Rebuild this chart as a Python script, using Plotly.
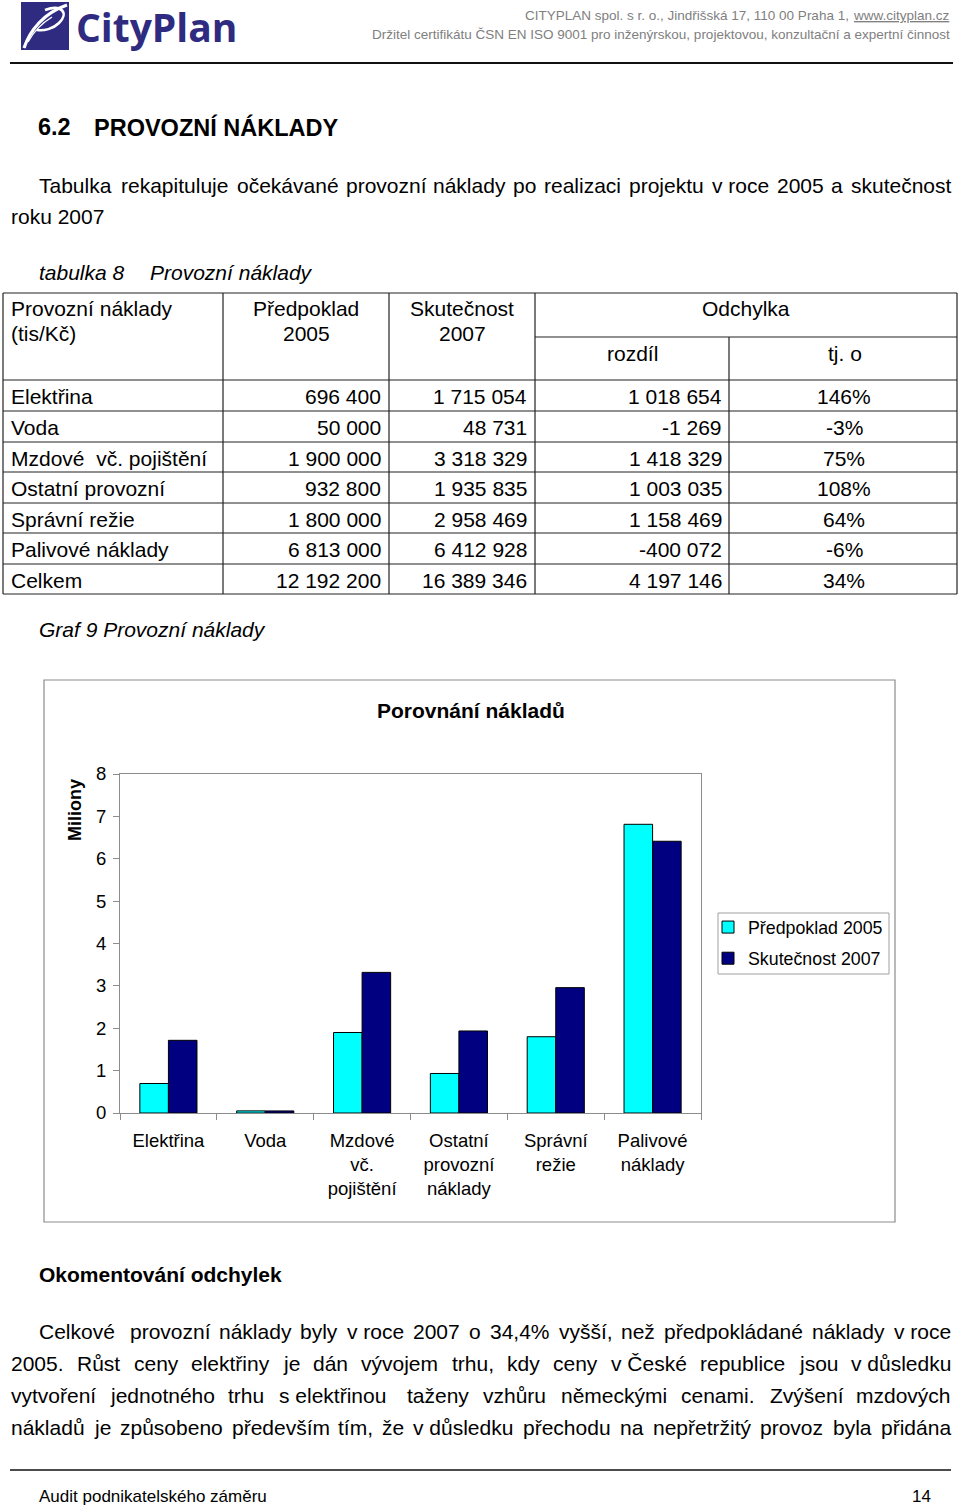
import unicodedata
import plotly.graph_objects as go

# ---------------- data ----------------
table_rows = ["Elektřina", "Voda", "Mzdové\u00a0 vč. pojištění", "Ostatní provozní",
              "Správní režie", "Palivové náklady", "Celkem"]
predpoklad_2005 = [696400, 50000, 1900000, 932800, 1800000, 6813000, 12192200]
skutecnost_2007 = [1715054, 48731, 3318329, 1935835, 2958469, 6412928, 16389346]
rozdil = [1018654, -1269, 1418329, 1003035, 1158469, -400072, 4197146]
tj_o = ["146%", "-3%", "75%", "108%", "64%", "-6%", "34%"]

chart_categories = ["Elektřina", "Voda", "Mzdové<br>vč.<br>pojištění",
                    "Ostatní<br>provozní<br>náklady", "Správní<br>režie", "Palivové<br>náklady"]
chart_pred = [v / 1e6 for v in predpoklad_2005[:6]]
chart_skut = [v / 1e6 for v in skutecnost_2007[:6]]
y_ticks = [0, 1, 2, 3, 4, 5, 6, 7, 8]

para_lines = [
    ["Celkové\u00a0", "provozní", "náklady", "byly", "v\u00a0roce", "2007", "o", "34,4%", "vyšší,", "než",
     "předpokládané", "náklady", "v\u00a0roce"],
    ["2005.", "Růst", "ceny", "elektřiny", "je", "dán", "vývojem", "trhu,", "kdy", "ceny", "v\u00a0České",
     "republice", "jsou", "v\u00a0důsledku"],
    ["vytvoření", "jednotného", "trhu", "s\u00a0elektřinou\u00a0", "taženy", "vzhůru", "německými", "cenami.",
     "Zvýšení", "mzdových"],
    ["nákladů", "je", "způsobeno", "především", "tím,", "že", "v\u00a0důsledku", "přechodu", "na",
     "nepřetržitý", "provoz", "byla", "přidána"],
]
intro_line = ["Tabulka", "rekapituluje", "očekávané", "provozní", "náklady", "po", "realizaci", "projektu",
              "v\u00a0roce", "2005", "a", "skutečnost"]

# ---------------- helpers ----------------
W, H = 960, 1508
FONT = "Liberation Sans, Arial, sans-serif"


def px(x):
    return x / W


def py(y):
    return 1 - y / H


AW = {' ': 278, '\u00a0': 278, 'a': 556, 'b': 556, 'c': 500, 'd': 556, 'e': 556, 'f': 278, 'g': 556,
      'h': 556, 'i': 222, 'j': 222, 'k': 500, 'l': 222, 'm': 833, 'n': 556, 'o': 556, 'p': 556,
      'q': 556, 'r': 333, 's': 500, 't': 278, 'u': 556, 'v': 500, 'w': 722, 'x': 500, 'y': 500,
      'z': 500, 'A': 667, 'B': 667, 'C': 722, 'D': 722, 'E': 667, 'F': 611, 'G': 778, 'H': 722,
      'I': 278, 'J': 500, 'K': 667, 'L': 556, 'M': 833, 'N': 722, 'O': 778, 'P': 667, 'Q': 778,
      'R': 722, 'S': 667, 'T': 611, 'U': 722, 'V': 667, 'W': 944, 'X': 667, 'Y': 667, 'Z': 611,
      ',': 278, '.': 278, '%': 889, '-': 333, '(': 333, ')': 333, '/': 278}


def tw(s, size):
    t = 0
    for ch in s:
        base = unicodedata.normalize('NFD', ch)[0]
        t += AW.get(base, 556)
    return t / 1000 * size


annotations = []
shapes = []


def text(x, y, s, size=21, anchor="left", bold=False, italic=False, color="black", family=FONT, **kw):
    if bold:
        s = "<b>" + s + "</b>"
    if italic:
        s = "<i>" + s + "</i>"
    annotations.append(dict(x=px(x), y=py(y), xref="paper", yref="paper", text=s, showarrow=False,
                            xanchor=anchor, yanchor="middle", borderpad=0,
                            font=dict(size=size, color=color, family=family, **kw)))


def justify(tokens, x0, x1, y, size=21):
    widths = [tw(t, size) for t in tokens]
    gap = (x1 - x0 - sum(widths)) / (len(tokens) - 1)
    x = x0
    for t, w in zip(tokens, widths):
        text(x, y, t, size)
        x += w + gap


def hline(x0, x1, y, color="#222", width=1.2):
    shapes.append(dict(type="line", xref="paper", yref="paper", x0=px(x0), x1=px(x1), y0=py(y), y1=py(y),
                       line=dict(color=color, width=width)))


def vline(x, y0, y1, color="#222", width=1.2):
    shapes.append(dict(type="line", xref="paper", yref="paper", x0=px(x), x1=px(x), y0=py(y0), y1=py(y1),
                       line=dict(color=color, width=width)))


# ---------------- header ----------------
NAVY = "#2E2B80"
shapes.append(dict(type="rect", xref="paper", yref="paper", x0=px(21), x1=px(69), y0=py(50), y1=py(2),
                   fillcolor=NAVY, line=dict(width=0)))


def path(points_cmds):
    out = []
    for c in points_cmds:
        if isinstance(c, str):
            out.append(c)
        else:
            out.append(f"{px(c[0]):.5f},{py(c[1]):.5f}")
    return " ".join(out)


shapes.append(dict(type="path", xref="paper", yref="paper",
                   path=path(["M", (24, 48), "C", (30, 30), (44, 13), (67, 5)]),
                   line=dict(color="white", width=3.2)))
shapes.append(dict(type="path", xref="paper", yref="paper",
                   path=path(["M", (45, 10), "C", (62, 4), (69, 13), (59, 23), "C", (53, 29), (44, 31), (37, 30)]),
                   line=dict(color="white", width=2.6)))
shapes.append(dict(type="path", xref="paper", yref="paper",
                   path=path(["M", (28, 42), "C", (34, 31), (42, 23), (52, 17)]),
                   line=dict(color="white", width=1.4)))
text(75, 27, "<b>CityPlan</b>", size=39, color=NAVY, family="Open Sans, sans-serif")

text(850, 16, "CITYPLAN spol. s r. o., Jindřišská 17, 110 00 Praha 1,", size=13.5, anchor="right", color="#808080")
text(951, 16, "www.cityplan.cz", size=13.5, anchor="right", color="#808080", lineposition="under")
text(951, 35, "Držitel certifikátu ČSN EN ISO 9001 pro inženýrskou, projektovou, konzultační a expertní činnost",
     size=13.5, anchor="right", color="#808080")
hline(10, 953, 63, color="#111", width=2)

# ---------------- headings & intro ----------------
text(37, 127, "6.2", size=23.5, bold=True)
text(93, 127, "PROVOZNÍ NÁKLADY", size=23.5, bold=True)
justify(intro_line, 38, 950, 185)
text(10, 217, "roku 2007", 21)
text(38, 273, "tabulka 8", 21, italic=True)
text(149, 273, "Provozní náklady", 21, italic=True)

# ---------------- table ----------------
row_lines = [380, 411, 442, 472, 503, 533, 564, 594]
hline(3, 957, 293)
for yl in row_lines:
    hline(3, 957, yl)
hline(535, 957, 337)
for xl in [3, 223, 389, 535, 957]:
    vline(xl, 293, 594)
vline(729, 337, 594)

text(10, 309, "Provozní náklady", 21)
text(10, 333, "(tis/Kč)", 21)
text(306, 309, "Předpoklad", 21, anchor="center")
text(306, 333, "2005", 21, anchor="center")
text(462, 309, "Skutečnost", 21, anchor="center")
text(462, 333, "2007", 21, anchor="center")
text(746, 309, "Odchylka", 21, anchor="center")
text(632, 354, "rozdíl", 21, anchor="center")
text(845, 354, "tj. o", 21, anchor="center")


def fmt(v):
    return f"{v:,}".replace(",", " ")


for i, lab in enumerate(table_rows):
    yc = (row_lines[i] + row_lines[i + 1]) / 2 + 1
    text(10, yc, lab, 21)
    text(382, yc, fmt(predpoklad_2005[i]), 21, anchor="right")
    text(528, yc, fmt(skutecnost_2007[i]), 21, anchor="right")
    text(723, yc, fmt(rozdil[i]), 21, anchor="right")
    text(844, yc, tj_o[i], 21, anchor="center")

text(38, 630, "Graf 9 Provozní náklady", 21, italic=True)

# ---------------- chart frame & labels ----------------
shapes.append(dict(type="rect", xref="paper", yref="paper", x0=px(44), x1=px(895), y0=py(1222), y1=py(680),
                   line=dict(color="#8c8c8c", width=1.2), fillcolor="rgba(0,0,0,0)", layer="below"))
# legend box
shapes.append(dict(type="rect", xref="paper", yref="paper", x0=px(718), x1=px(889), y0=py(974), y1=py(913),
                   line=dict(color="#a0a0a0", width=1), fillcolor="rgba(0,0,0,0)", layer="below"))
text(471, 711, "Porovnání nákladů", 21, anchor="center", bold=True)
annotations.append(dict(x=px(75), y=py(810), xref="paper", yref="paper", text="<b>Miliony</b>",
                        showarrow=False, textangle=-90, xanchor="center", yanchor="middle",
                        font=dict(size=18, color="black", family=FONT)))

# ---------------- comments ----------------
text(38, 1274, "Okomentování odchylek", 21, bold=True)
justify(para_lines[0], 38, 950, 1331)
justify(para_lines[1], 10, 950, 1363)
justify(para_lines[2], 10, 950, 1395)
justify(para_lines[3], 10, 950, 1427)

# ---------------- footer ----------------
hline(10, 951, 1470, color="#111", width=1.6)
text(38, 1496, "Audit podnikatelského záměru", 17)
text(932, 1496, "14", 17, anchor="right")

# ---------------- figure ----------------
fig = go.Figure()
fig.add_trace(go.Bar(name="Předpoklad 2005", x=chart_categories, y=chart_pred,
                     marker=dict(color="#00FFFF", line=dict(color="black", width=1)),
                     legendgroup="a"))
fig.add_trace(go.Bar(name="Skutečnost 2007", x=chart_categories, y=chart_skut,
                     marker=dict(color="#000080", line=dict(color="black", width=1)),
                     legendgroup="b"))

fig.update_layout(
    width=W, height=H,
    margin=dict(l=0, r=0, t=0, b=0, pad=0, autoexpand=False),
    paper_bgcolor="white", plot_bgcolor="white",
    font=dict(family=FONT, color="black"),
    barmode="group", bargap=0.41, bargroupgap=0,
    showlegend=True,
    legend=dict(x=px(708), y=py(909), xanchor="left", yanchor="top",
                borderwidth=0, bgcolor="rgba(0,0,0,0)",
                font=dict(size=17.8, family=FONT, color="black"),
                itemwidth=30, traceorder="grouped", tracegroupgap=5),
    xaxis=dict(domain=[px(120), px(701)], showline=True, linecolor="#8c8c8c", linewidth=1.2, mirror=True,
               ticks="outside", tickson="boundaries", ticklen=6, tickcolor="#8c8c8c",
               ticklabelstandoff=11, automargin=False,
               tickangle=0, tickfont=dict(size=18.5), showgrid=False, fixedrange=True),
    yaxis=dict(domain=[py(1113), py(774)], range=[0, 8], tickvals=y_ticks,
               showline=True, linecolor="#8c8c8c", linewidth=1.2, mirror=True, automargin=False,
               ticks="outside", ticklen=6, tickcolor="#8c8c8c", ticklabelstandoff=3,
               tickfont=dict(size=18.5), showgrid=False, zeroline=False, fixedrange=True),
    annotations=annotations,
    shapes=shapes,
)

post = ("document.documentElement.style.margin='0';document.documentElement.style.padding='0';"
        "document.documentElement.style.overflow='hidden';"
        "document.body.style.margin='0';document.body.style.padding='0';document.body.style.overflow='hidden';"
        "var d=document.getElementById('{plot_id}');d.style.position='fixed';d.style.top='0px';d.style.left='0px';")
fig.write_html("out.html", config={"displayModeBar": False}, post_script=post)
